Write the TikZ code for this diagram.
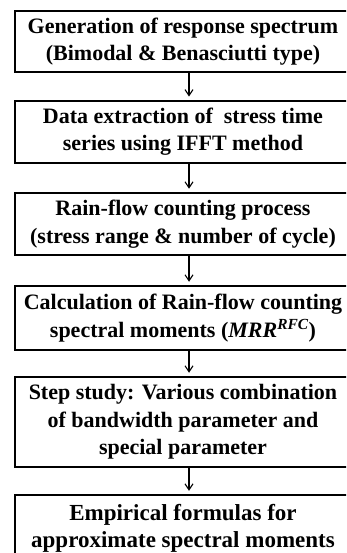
\documentclass[tikz,border=0pt]{standalone}
\usepackage{fontspec}
\setmainfont{Liberation Serif}
\usetikzlibrary{arrows.meta}
\tikzset{
  stepbox/.style={draw=black, line width=1.5pt, rectangle, inner sep=0pt,
    minimum width=336pt, align=center, font=\bfseries\fontsize{22}{27.5}\selectfont},
  flowarrow/.style={draw=black, line width=1.1pt, -{Straight Barb[length=6pt,width=8pt,line width=1.1pt]}}
}
\begin{document}
\begin{tikzpicture}[x=1pt,y=1pt]
  \clip (0,0) rectangle (346,-553);
  \fill[white] (0,0) rectangle (346,-553);

  \node[stepbox, minimum height=61pt] (b1) at (183,-41.5)
    {Generation of response spectrum\\(Bimodal \& Benasciutti type)};
  \node[stepbox, minimum height=62pt] (b2) at (183,-131.8)
    {Data extraction of~ stress time\\series using IFFT method};
  \node[stepbox, minimum height=62pt] (b3) at (183,-224)
    {Rain-flow counting process\\(stress range \& number of cycle)};
  \node[stepbox, minimum height=64pt] (b4) at (183,-318)
    {Calculation of Rain-flow counting\\spectral moments (\textit{MRR}\textsuperscript{\textit{RFC}})};
  \node[stepbox, minimum height=90pt] (b5) at (183,-422)
    {Step study: Various combination\\of bandwidth parameter and\\special parameter};
  \node[stepbox, minimum height=66pt, font=\bfseries\fontsize{23}{27}\selectfont] (b6) at (183,-528)
    {Empirical formulas for\\approximate spectral moments};

  \foreach \a/\b in {b1/b2, b2/b3, b3/b4, b4/b5, b5/b6}
    \draw[flowarrow] ([xshift=6pt]\a.south) -- ([xshift=6pt,yshift=3.5pt]\b.north);
\end{tikzpicture}
\end{document}
